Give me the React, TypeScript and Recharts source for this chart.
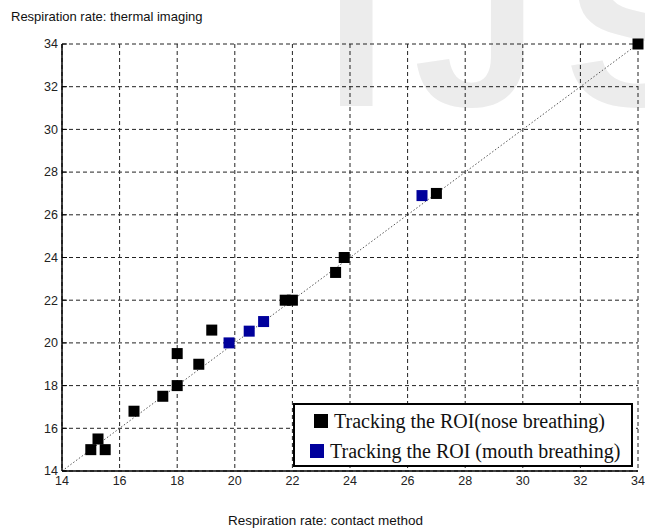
import React from "react";
import { ScatterChart, Scatter, XAxis, YAxis, CartesianGrid, ReferenceLine } from "recharts";

// values
const axisTicks = [14, 16, 18, 20, 22, 24, 26, 28, 30, 32, 34];
const noseContact = [15, 15.25, 15.5, 16.5, 17.5, 18, 18, 18.75, 19.2, 21.75, 22, 23.5, 23.8, 27, 34];
const noseThermal = [15, 15.5, 15, 16.8, 17.5, 18, 19.5, 19, 20.6, 22, 22, 23.3, 24, 27, 34];
const mouthContact = [19.8, 20.5, 21, 26.5];
const mouthThermal = [20, 20.55, 21, 26.9];
const seriesNames = ["Tracking the ROI(nose breathing)", "Tracking the ROI (mouth breathing)"];
const seriesColors = ["#000000", "#00009c"];

const toPoints = (xs: number[], ys: number[]) => xs.map((x, i) => ({ x, y: ys[i] }));
const nose = toPoints(noseContact, noseThermal);
const mouth = toPoints(mouthContact, mouthThermal);

const sansFont = "'Liberation Sans', Arial, sans-serif";
const serifFont = "'Liberation Serif', 'Times New Roman', serif";

const squareShape = (color: string) => (props: any) => {
  const { cx, cy } = props;
  if (cx == null || cy == null) return <g />;
  return <rect x={cx - 5.5} y={cy - 5.5} width={11} height={11} fill={color} />;
};

const YTick = (props: any) => {
  const { x, y, payload } = props;
  return (
    <g>
      <line x1={x + 4} x2={x + 9} y1={y} y2={y} stroke="#000" />
      <text x={x} y={y} dy="0.35em" textAnchor="end" fontSize={12.5} fill="#222" fontFamily={sansFont}>
        {payload.value}
      </text>
    </g>
  );
};

export default function App() {
  return (
    <div style={{ position: "absolute", left: 0, top: 0, width: 645, height: 529, background: "#fff", overflow: "hidden" }}>
      <svg width={645} height={529} style={{ position: "absolute", left: 0, top: 0 }}>
        <text x={325} y={106} fontSize={225} fontWeight="bold" letterSpacing={26} fill="#ececec" fontFamily={sansFont}>
          IJS
        </text>
      </svg>
      <div style={{ position: "absolute", left: 0, top: 0 }}>
        <ScatterChart width={645} height={529} margin={{ top: 44, right: 7, left: 0, bottom: 0 }}>
          <CartesianGrid stroke="#222" strokeDasharray="4 3" />
          <XAxis
            type="number"
            dataKey="x"
            domain={[14, 34]}
            ticks={axisTicks}
            height={58}
            tickSize={0}
            tickMargin={5}
            axisLine={{ stroke: "#000", strokeWidth: 1.5 }}
            tick={{ fontSize: 12.5, fill: "#222", fontFamily: sansFont }}
          />
          <YAxis
            type="number"
            dataKey="y"
            domain={[14, 34]}
            ticks={axisTicks}
            width={62}
            tickSize={0}
            tickMargin={4}
            axisLine={{ stroke: "#000", strokeWidth: 1.5 }}
            tick={<YTick />}
          />
          <ReferenceLine
            segment={[{ x: 14, y: 14 }, { x: 34, y: 34 }]}
            stroke="#555"
            strokeDasharray="1.5 2"
            strokeWidth={1}
          />
          <Scatter name={seriesNames[0]} data={nose} fill={seriesColors[0]} shape={squareShape(seriesColors[0])} isAnimationActive={false} />
          <Scatter name={seriesNames[1]} data={mouth} fill={seriesColors[1]} shape={squareShape(seriesColors[1])} isAnimationActive={false} />
        </ScatterChart>
      </div>
      <div style={{ position: "absolute", left: 11, top: 9, fontSize: 13, fontFamily: sansFont, color: "#111" }}>
        Respiration rate: thermal imaging
      </div>
      <div style={{ position: "absolute", left: 228, top: 513, fontSize: 13.5, fontFamily: sansFont, color: "#111" }}>
        Respiration rate: contact method
      </div>
      <div
        style={{
          position: "absolute",
          left: 293,
          top: 403,
          width: 340,
          height: 64,
          boxSizing: "border-box",
          border: "2px solid #000",
          background: "#fff",
          fontFamily: serifFont,
          fontSize: 20,
          color: "#111",
        }}
      >
        {seriesNames.map((name, i) => (
          <div key={name} style={{ position: "absolute", left: i === 0 ? 19 : 15, top: i === 0 ? 2 : 32, display: "flex", alignItems: "center", whiteSpace: "nowrap", height: 28 }}>
            <span style={{ display: "inline-block", width: 14, height: 14, background: seriesColors[i], marginRight: 6 }} />
            {name}
          </div>
        ))}
      </div>
    </div>
  );
}
